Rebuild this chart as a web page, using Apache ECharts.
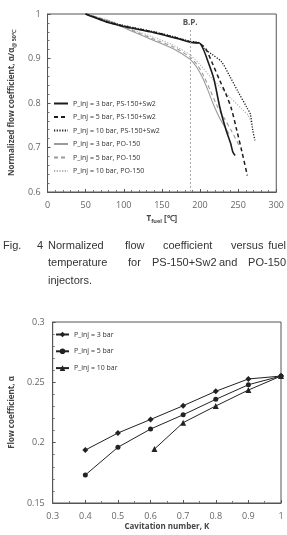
<!DOCTYPE html>
<html><head><meta charset="utf-8">
<script src="https://cdn.jsdelivr.net/npm/echarts@6/dist/echarts.min.js"></script>
<style>html,body{margin:0;padding:0;background:#fff}#c{width:287px;height:535px}</style>
</head><body><div id="c"></div>
<script>
// ---- Chart 1 data: [T_fuel (°C), normalized flow coefficient]
const ps3bar = [[50,1.0],[60,0.993],[77,0.982],[100,0.972],[140,0.958],[170,0.945],[186,0.937],[195,0.935],[199,0.935],[205,0.918],[210,0.895],[218,0.855],[226,0.79],[234,0.74],[240,0.71],[243,0.69],[246,0.682]];
const ps5bar = [[50,1.0],[60,0.994],[77,0.983],[100,0.973],[140,0.959],[170,0.946],[186,0.938],[195,0.936],[199,0.934],[207,0.923],[216,0.89],[226,0.85],[234,0.82],[241,0.788],[248,0.74],[255,0.69],[262,0.637]];
const ps10bar = [[50,1.0],[60,0.994],[77,0.984],[100,0.974],[140,0.96],[170,0.947],[186,0.939],[195,0.937],[199,0.935],[205,0.923],[215,0.91],[228,0.893],[239,0.86],[250,0.825],[262,0.788],[266,0.775],[269,0.74],[272,0.716]];
const po3bar = [[50,1.0],[80,0.984],[110,0.962],[140,0.94],[165,0.922],[187,0.898],[195,0.882],[203,0.858],[210,0.83],[218,0.795],[226,0.765],[233,0.745],[238,0.731]];
const po5bar = [[50,1.0],[80,0.985],[110,0.964],[140,0.943],[165,0.926],[187,0.903],[197,0.884],[205,0.86],[213,0.83],[222,0.795],[232,0.765],[242,0.735],[251,0.705]];
const po10bar = [[50,1.0],[80,0.986],[110,0.966],[140,0.947],[165,0.93],[187,0.908],[200,0.886],[212,0.862],[225,0.838],[240,0.812],[255,0.786],[263,0.772],[267,0.755]];
const boilingPoint = 187;
const chart1Names = ['P_inj = 3 bar, PS-150+Sw2','P_inj = 5 bar, PS-150+Sw2','P_inj = 10 bar, PS-150+Sw2','P_inj = 3 bar, PO-150','P_inj = 5 bar, PO-150','P_inj = 10 bar, PO-150'];

// ---- Chart 2 data: cavitation number K vs flow coefficient
const k3 = [0.4,0.5,0.6,0.7,0.8,0.9,1.0];
const alpha3 = [0.1939,0.208,0.2192,0.2306,0.2426,0.2528,0.2552];
const k5 = [0.4,0.5,0.6,0.7,0.8,0.9,1.0];
const alpha5 = [0.1732,0.1962,0.2113,0.2231,0.2359,0.2480,0.2552];
const k10 = [0.612,0.7,0.8,0.9,1.0];
const alpha10 = [0.1947,0.2166,0.2304,0.2436,0.2552];
const chart2Names = ['P_inj = 3 bar','P_inj = 5 bar','P_inj = 10 bar'];

// caption words: [text, left x] ; null x means right-aligned to page edge
const captionLines = [
  [['Fig.',3],['4',37],['Normalized',48],['flow',125],['coefficient',163],['versus',231],['fuel',null]],
  [['temperature',48],['for',128],['PS-150+Sw2',152],['and',219],['PO-150',null]],
  [['injectors.',48]]
];

const FONT = '"Open Sans", sans-serif';
const zip = (a,b) => a.map((v,i)=>[v,b[i]]);
const axisCommon = {
  axisLine:{show:true,lineStyle:{color:'#555',width:1}},
  axisTick:{show:true,inside:true,length:3,lineStyle:{color:'#555'}},
  splitLine:{show:false}
};
const black='#1c1c1c', gray='#9a9a9a';
const c1styles = [
  {color:black,width:1.6,type:'solid'},
  {color:black,width:1.5,type:[4,3]},
  {color:black,width:1.3,type:[1.2,1.5]},
  {color:gray,width:1.1,type:'solid'},
  {color:gray,width:1.1,type:[4,3]},
  {color:'#b0b0b0',width:1.1,type:[1.2,1.5]}
];
const c1data = [ps3bar,ps5bar,ps10bar,po3bar,po5bar,po10bar];
const series = c1data.map((d,i)=>({
  name:chart1Names[i], type:'line', xAxisIndex:0, yAxisIndex:0, data:d,
  showSymbol:false, symbol:'none', smooth:0.3, lineStyle:c1styles[i], itemStyle:{color:c1styles[i].color},
  z: i<3 ? 3 : 2
}));
series[0].markLine = {
  silent:true, symbol:['none','none'],
  lineStyle:{color:'#aaa',type:[2,2],width:1},
  label:{show:true,position:'end',formatter:'B.P.',color:'#555',fontSize:8,fontWeight:'bold',fontFamily:FONT,distance:2},
  data:[[{coord:[boilingPoint,0.6]},{coord:[boilingPoint,0.968]}]]
};
const c2 = [[k3,alpha3,'diamond',6],[k5,alpha5,'circle',5],[k10,alpha10,'triangle',6]];
c2.forEach((s,i)=>series.push({
  name:chart2Names[i], type:'line', xAxisIndex:1, yAxisIndex:1, data:zip(s[0],s[1]),
  symbol:s[2], symbolSize:s[3], showSymbol:true,
  lineStyle:{color:'#222',width:1}, itemStyle:{color:'#222'}
}));

const graphics = [];
captionLines.forEach((line,li)=>line.forEach(w=>{
  const g = {type:'text', top:240+li*17.5, style:{text:w[0],fill:'#333',font:'11px "Liberation Sans", sans-serif'}};
  if (w[1]===null) g.right = 1; else g.left = w[1];
  graphics.push(g);
}));

const lab = (m)=>({color:'#666',fontSize:9,fontFamily:FONT,margin:m});
const minor = (n)=>({show:true,splitNumber:n,length:2,lineStyle:{color:'#777'}});
const option = {
  backgroundColor:'#fff',
  animation:false,
  grid:[
    {left:39,top:14,width:239,height:178,show:true,borderColor:'#555',borderWidth:1},
    {left:41,top:322,width:240,height:181,show:true,borderColor:'#555',borderWidth:1}
  ],
  xAxis:[
    Object.assign({},axisCommon,{type:'value',gridIndex:0,min:0,max:300,interval:50,minorTick:minor(5),
      name:'T{s|fuel} [℃]',nameLocation:'middle',nameGap:22,
      nameTextStyle:{color:'#444',fontSize:8,fontWeight:'bold',fontFamily:FONT,rich:{s:{fontSize:5.5,fontWeight:'bold',color:'#444',padding:[4,0,0,0],fontFamily:FONT}}},
      axisLabel:lab(9)}),
    Object.assign({},axisCommon,{type:'value',gridIndex:1,min:0.3,max:1,interval:0.1,minorTick:minor(2),
      name:'Cavitation number, K',nameLocation:'middle',nameGap:20,
      nameTextStyle:{color:'#444',fontSize:8,fontWeight:'bold',fontFamily:FONT},
      axisLabel:lab(9)})
  ],
  yAxis:[
    Object.assign({},axisCommon,{type:'value',gridIndex:0,min:0.6,max:1,interval:0.1,minorTick:minor(5),
      name:'Normalized flow coefficient, α/α{s|@ 50℃}',nameLocation:'middle',nameGap:26,nameRotate:90,
      nameTextStyle:{color:'#444',fontSize:8,fontWeight:'bold',fontFamily:FONT,rich:{s:{fontSize:5.5,fontWeight:'bold',color:'#444',padding:[4,0,0,0],fontFamily:FONT}}},
      axisLabel:lab(7)}),
    Object.assign({},axisCommon,{type:'value',gridIndex:1,min:0.15,max:0.3,interval:0.05,minorTick:minor(5),
      name:'Flow coefficient, α',nameLocation:'middle',nameGap:27,nameRotate:90,
      nameTextStyle:{color:'#444',fontSize:8,fontWeight:'bold',fontFamily:FONT},
      axisLabel:lab(8)})
  ],
  legend:[
    {id:'lg1',data:chart1Names,orient:'vertical',left:53,top:100,itemWidth:14,itemHeight:8,itemGap:6.5,padding:0,
      itemStyle:{opacity:0},
      textStyle:{color:'#333',fontSize:7,fontFamily:FONT}},
    {id:'lg2',data:chart2Names,orient:'vertical',left:55,top:331,itemWidth:13,itemHeight:7,itemGap:9.8,padding:0,
      textStyle:{color:'#333',fontSize:7,fontFamily:FONT}}
  ],
  graphic:graphics,
  series:series
};
const chart = echarts.init(document.getElementById('c'),null,{renderer:'canvas'});
chart.setOption(option);
</script></body></html>
